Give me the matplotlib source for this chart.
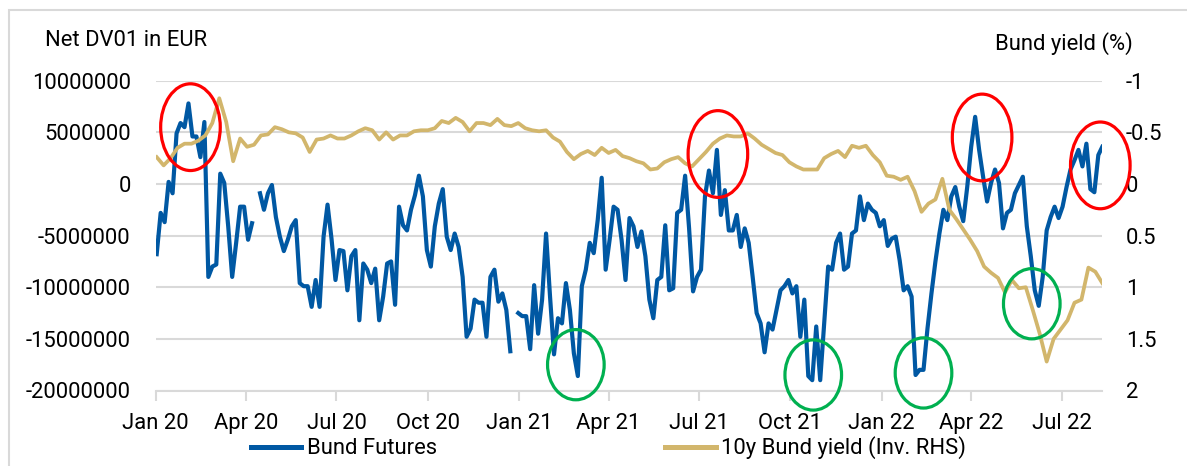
import numpy as np
import pandas as pd
import matplotlib
matplotlib.use("Agg")
from matplotlib import pyplot as plt
import matplotlib.dates as mdates
from matplotlib.patches import Ellipse, Rectangle
from matplotlib.ticker import FuncFormatter, MultipleLocator

plt.rcParams['font.family'] = ['Roboto', 'DejaVu Sans']

# Net DV01 of Bund futures, EUR millions, one reading every 4 days from 2 Jan 2020 (nan = no data)
futures_start = "2020-01-02"
bund_futures_m = [
    -6.8, -2.8, -3.7, 0.2, -0.9, 4.9, 5.9, 5.5, 7.8, 4.6,
    4.6, 2.6, 6.0, -9.0, -8.0, -7.8, 1.0, 0.1, -4.1, -9.0,
    -5.7, -2.2, -2.2, -5.4, -3.8, np.nan, -0.9, -2.5, -0.9, -0.1,
    -3.2, -5.1, -6.5, -5.4, -4.1, -3.5, -9.6, -9.9, -9.9, -11.9,
    -9.3, -11.9, -5.1, -2.0, -5.3, -9.3, -6.4, -6.5, -10.3, -7.0,
    -6.4, -13.2, -7.7, -8.3, -9.6, -8.2, -13.2, -10.9, -7.7, -7.5,
    -11.7, -2.2, -4.0, -4.5, -2.5, -1.1, 0.8, -1.2, -6.4, -8.0,
    -4.1, -1.9, -0.5, -5.1, -6.4, -4.8, -6.1, -9.0, -14.8, -14.0,
    -11.2, -11.5, -11.5, -14.8, -9.0, -8.3, -11.4, -10.6, -12.2, -16.2,
    np.nan, -12.5, -12.8, -12.8, -16.0, -9.8, -14.5, -11.2, -4.8, -10.9,
    -16.5, -13.0, -13.5, -9.6, -12.2, -16.4, -18.6, -9.9, -8.3, -5.7,
    -6.7, -3.5, 0.6, -8.3, -5.4, -2.2, -2.5, -5.4, -9.3, -3.3,
    -4.1, -6.1, -4.6, -7.0, -11.2, -13.0, -9.3, -9.0, -4.0, -10.3,
    -10.1, -2.8, -2.5, 0.8, -4.3, -10.4, -9.0, -8.3, -1.2, 1.3,
    -0.9, 3.3, -3.0, -0.6, -4.5, -4.5, -3.0, -6.1, -4.3, -5.7,
    -9.0, -12.5, -13.5, -16.3, -13.5, -14.1, -12.2, -10.3, -9.9, -9.3,
    -10.6, -9.9, -14.8, -11.2, -18.6, -19.0, -13.8, -19.0, -13.5, -8.0,
    -8.3, -5.7, -4.8, -8.3, -8.0, -4.8, -4.5, -1.2, -3.5, -1.9,
    -2.5, -2.8, -4.1, -3.5, -6.0, -5.3, -5.1, -7.4, -10.3, -9.9,
    -10.9, -18.5, -18.0, -18.0, -14.0, -10.6, -7.5, -4.8, -2.5, -3.5,
    -1.2, -0.3, -2.2, -3.6, -0.3, 3.6, 6.5, 3.3, 0.7, -1.7,
    0.1, 1.4, 0.1, -4.3, -2.8, -2.5, -0.9, -0.1, 0.7, -4.1,
    -7.0, -10.3, -11.8, -9.0, -4.5, -3.2, -2.2, -3.3, -2.2, -0.3,
    1.4, 2.3, 3.3, 1.7, 3.9, -0.5, -0.8, 2.8, 3.6,
]

# 10y Bund yield in %, weekly from 2 Jan 2020
yield_start = "2020-01-02"
bund_yield = [
    -0.26, -0.18, -0.25, -0.35, -0.39, -0.39, -0.42, -0.47, -0.59, -0.83,
    -0.60, -0.22, -0.44, -0.36, -0.38, -0.47, -0.48, -0.55, -0.53, -0.50,
    -0.49, -0.45, -0.31, -0.43, -0.44, -0.47, -0.44, -0.44, -0.47, -0.51,
    -0.54, -0.52, -0.43, -0.50, -0.43, -0.47, -0.47, -0.51, -0.52, -0.52,
    -0.54, -0.61, -0.59, -0.64, -0.60, -0.51, -0.59, -0.59, -0.57, -0.63,
    -0.57, -0.56, -0.59, -0.54, -0.52, -0.51, -0.52, -0.45, -0.41, -0.31,
    -0.24, -0.29, -0.32, -0.28, -0.35, -0.30, -0.33, -0.27, -0.25, -0.22,
    -0.20, -0.14, -0.15, -0.21, -0.24, -0.26, -0.20, -0.17, -0.24, -0.31,
    -0.39, -0.44, -0.47, -0.46, -0.46, -0.49, -0.44, -0.38, -0.34, -0.30,
    -0.28, -0.21, -0.17, -0.14, -0.14, -0.14, -0.25, -0.29, -0.32, -0.26,
    -0.37, -0.35, -0.37, -0.28, -0.21, -0.08, -0.07, -0.04, -0.07, 0.07,
    0.27, 0.19, 0.15, -0.05, 0.25, 0.34, 0.44, 0.54, 0.65, 0.80,
    0.86, 0.91, 1.05, 0.93, 1.01, 1.00, 1.22, 1.45, 1.72, 1.50,
    1.41, 1.32, 1.15, 1.12, 0.81, 0.85, 0.96,
]

# periods flagged in the chart: date, net DV01 level (EUR m), colour
flag_dates = ["2020-02-05", "2021-07-20", "2022-04-12", "2022-08-09",
              "2021-02-27", "2021-10-24", "2022-02-12", "2022-06-01"]
flag_levels = [5.5, 2.9, 4.5, 1.8, -17.5, -18.5, -18.3, -11.6]
flag_colors = ["red"] * 4 + ["green"] * 4

W, H = 1187, 466
BLUE = '#0058a3'
GOLD = '#d2b66c'
GRID = '#d9d9d9'
FS = 15.8

fut_dates = pd.date_range(futures_start, periods=len(bund_futures_m), freq='4D')
yld_dates = pd.date_range(yield_start, periods=len(bund_yield), freq='7D')
fut = np.array(bund_futures_m, dtype=float) * 1e6

fig = plt.figure(figsize=(W / 100, H / 100), dpi=100)
ax = fig.add_axes([155.7 / W, (H - 390.5) / H, (1102.3 - 155.7) / W, (390.5 - 80.7) / H])

# outer frame
fig.add_artist(Rectangle((9 / W, -0.02), 1.05, (H - 10) / H + 0.02, transform=fig.transFigure,
                         fill=False, edgecolor=GRID, lw=1.5))

l1, = ax.plot(fut_dates, fut, color=BLUE, lw=3.0, solid_joinstyle='round', label='Bund Futures')
ax.set_ylim(-20e6, 10e6)
ax.set_xlim(pd.Timestamp("2020-01-01"), pd.Timestamp("2022-08-11"))
ax.yaxis.set_major_locator(MultipleLocator(5e6))
ax.yaxis.set_major_formatter(FuncFormatter(lambda v, p: "%d" % int(round(v))))
ax.xaxis.set_major_locator(mdates.MonthLocator(bymonth=[1, 4, 7, 10]))
ax.xaxis.set_major_formatter(mdates.DateFormatter('%b %y'))
ax.grid(axis='y', color=GRID, lw=1.5)
ax.set_axisbelow(True)
for s in ['top', 'left', 'right']:
    ax.spines[s].set_visible(False)
ax.spines['bottom'].set_color(GRID)
ax.spines['bottom'].set_linewidth(1.5)
ax.tick_params(axis='x', direction='out', length=7, width=1.5, color=GRID, pad=9, labelsize=FS)
ax.tick_params(axis='y', length=0, pad=18, labelsize=FS)

ax2 = ax.twinx()
l2, = ax2.plot(yld_dates, bund_yield, color=GOLD, lw=2.7, solid_joinstyle='round',
               label='10y Bund yield (Inv. RHS)')
ax2.set_ylim(2, -1)
ax2.yaxis.set_major_locator(MultipleLocator(0.5))
ax2.yaxis.set_major_formatter(FuncFormatter(lambda v, p: "%g" % v))
for s in ax2.spines.values():
    s.set_visible(False)
ax2.tick_params(axis='y', length=0, pad=17, labelsize=FS)

# circled periods
for d, lev, c in zip(flag_dates, flag_levels, flag_colors):
    big = c == "red"
    e = Ellipse((mdates.date2num(pd.Timestamp(d)), lev * 1e6),
                width=(60 if big else 57), height=(8.4e6 if big else 6.8e6),
                transform=ax.transData, fill=False,
                edgecolor='#ff0000' if big else '#00b050', lw=2.3, clip_on=False, zorder=5)
    ax2.add_patch(e)

fig.text(45 / W, 1 - 41 / H, "Net DV01 in EUR", ha='left', va='center', fontsize=FS)
fig.text(995 / W, 1 - 44 / H, "Bund yield (%)", ha='left', va='center', fontsize=FS)

leg = fig.legend([l1, l2], [l1.get_label(), l2.get_label()], loc='center',
                 bbox_to_anchor=(608.5 / W, 18 / H), ncol=2, frameon=False, fontsize=FS,
                 handlelength=2.3, handletextpad=0.25, columnspacing=10.4)
for ln in leg.get_lines():
    ln.set_linewidth(3.6)

fig.savefig("out.png", dpi=100)
